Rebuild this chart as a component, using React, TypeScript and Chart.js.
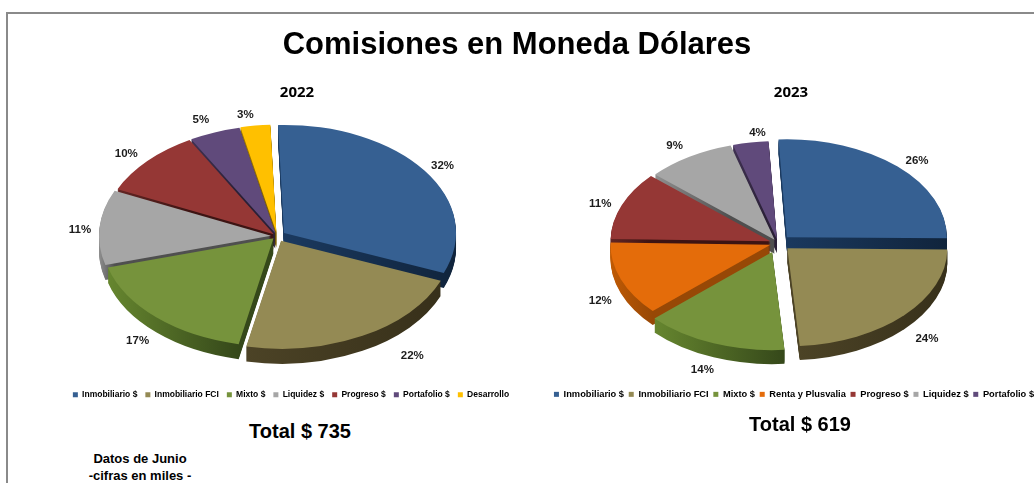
import React, { useEffect, useRef } from "react";
import { Chart, registerables } from "chart.js";

Chart.register(...registerables);

const pageTitle = "Comisiones en Moneda Dólares";
const note = ["Datos de Junio", "-cifras en miles -"];

const categories2022 = ["Inmobiliario $", "Inmobiliario FCI", "Mixto $", "Liquidez $", "Progreso $", "Portafolio $", "Desarrollo"];
const values2022 = [31.6, 22.2, 17.4, 11.2, 10, 4.8, 2.8];
const total2022 = "Total $ 735";

const categories2023 = ["Inmobiliario $", "Inmobiliario FCI", "Mixto $", "Renta y Plusvalia", "Progreso $", "Liquidez $", "Portafolio $"];
const values2023 = [26, 23.6, 14.4, 12.2, 11.2, 9, 3.6];
const total2023 = "Total $ 619";

type Tone = { top: string; light: string; dark: string };
const BLUE: Tone = { top: "#366092", light: "#1b3a60", dark: "#10243c" };
const OLIVE: Tone = { top: "#948A54", light: "#4c4326", dark: "#37301a" };
const GREEN: Tone = { top: "#76933C", light: "#66862f", dark: "#35481a" };
const GRAY: Tone = { top: "#A6A6A6", light: "#8f8f8f", dark: "#4f4f4f" };
const RED: Tone = { top: "#953735", light: "#632523", dark: "#3d1413" };
const PURPLE: Tone = { top: "#604A7B", light: "#3f3151", dark: "#2a2036" };
const YELLOW: Tone = { top: "#FFC000", light: "#a07a00", dark: "#7f6000" };
const ORANGE: Tone = { top: "#E46C0A", light: "#c05a04", dark: "#974806" };

const tones2022 = [BLUE, OLIVE, GREEN, GRAY, RED, PURPLE, YELLOW];
const tones2023 = [BLUE, OLIVE, GREEN, ORANGE, RED, GRAY, PURPLE];

type PieView = {
  cx: number; cy: number; rx: number; ry: number; depth: number;
  tones: Tone[]; nudges: number[][];
};

const LABEL_FACTOR = 1.12;

function pie3d(view: PieView) {
  return {
    id: "pie3d",
    beforeDatasetsDraw(chart: any) {
      const ctx: CanvasRenderingContext2D = chart.ctx;
      const canvasRect = chart.canvas.getBoundingClientRect();
      const cx = view.cx - canvasRect.left;
      const cy = view.cy - canvasRect.top;
      const arcs: any[] = chart.getDatasetMeta(0).data;
      const R = arcs[0].outerRadius;
      const sx = view.rx / R;
      const sy = view.ry / R;

      const drawArc = (arc: any, fill: any) => {
        const t = (arc.options.offset / 100) * R;
        const mid = (arc.startAngle + arc.endAngle) / 2;
        const opts = new Proxy(arc.options, {
          get(target: any, key: string) {
            if (key === "backgroundColor") return fill;
            if (key === "offset") return 0;
            return target[key];
          },
        });
        const clone = Object.create(arc);
        clone.options = opts;
        ctx.save();
        ctx.translate(Math.cos(mid) * t, Math.sin(mid) * t);
        arc.draw.call(clone, ctx);
        ctx.restore();
      };

      const sideFill = (arc: any, tone: Tone) => {
        let lo = Infinity;
        let hi = -Infinity;
        for (let i = 0; i <= 24; i++) {
          const a = arc.startAngle + ((arc.endAngle - arc.startAngle) * i) / 24;
          const x = arc.x + Math.cos(a) * R;
          lo = Math.min(lo, x);
          hi = Math.max(hi, x);
        }
        const g = ctx.createLinearGradient(lo, 0, hi, 0);
        g.addColorStop(0, tone.light);
        g.addColorStop(1, tone.dark);
        return g;
      };

      for (let d = view.depth; d >= 0; d--) {
        ctx.save();
        ctx.translate(cx, cy + d);
        ctx.scale(sx, sy);
        ctx.translate(-arcs[0].x, -arcs[0].y);
        arcs.forEach((arc, i) => {
          drawArc(arc, d === 0 ? view.tones[i].top : sideFill(arc, view.tones[i]));
        });
        ctx.restore();
      }

      const values: number[] = chart.data.datasets[0].data;
      ctx.save();
      ctx.font = "bold 11.5px 'Liberation Sans'";
      ctx.fillStyle = "#1c1c1c";
      ctx.textAlign = "center";
      ctx.textBaseline = "middle";
      arcs.forEach((arc, i) => {
        const mid = (arc.startAngle + arc.endAngle) / 2;
        const [nx, ny] = view.nudges[i];
        const x = cx + Math.cos(mid) * view.rx * LABEL_FACTOR + nx;
        const y = cy + Math.sin(mid) * view.ry * LABEL_FACTOR + ny;
        ctx.fillText(`${Math.round(values[i])}%`, x, y);
      });
      ctx.restore();
      return false;
    },
  };
}

type PieProps = {
  left: number; top: number; width: number; height: number;
  labels: string[]; values: number[]; tones: Tone[]; offsets: number[];
  rotation: number; legendSize: number; legendPadding: number; view: PieView;
};

function Pie(p: PieProps) {
  const ref = useRef<HTMLCanvasElement>(null);
  useEffect(() => {
    const chart = new Chart(ref.current as HTMLCanvasElement, {
      type: "pie",
      data: {
        labels: p.labels,
        datasets: [{
          data: p.values,
          backgroundColor: p.tones.map((t) => t.top),
          borderWidth: 0,
          offset: p.offsets,
        }],
      },
      options: {
        animation: false,
        responsive: false,
        rotation: p.rotation,
        plugins: {
          tooltip: { enabled: false },
          title: { display: false },
          legend: {
            position: "bottom",
            labels: {
              color: "#000",
              boxWidth: 5,
              boxHeight: 5,
              padding: p.legendPadding,
              font: { family: "'Liberation Sans'", size: p.legendSize, weight: "bold" },
            },
          },
        },
      },
      plugins: [pie3d(p.view)],
    } as any);
    return () => chart.destroy();
  }, []);
  return (
    <canvas
      ref={ref}
      width={p.width}
      height={p.height}
      style={{ position: "absolute", left: p.left, top: p.top, width: p.width, height: p.height }}
    />
  );
}

const textStyle = (left: number, top: number, width: number, size: number, font = "'Liberation Sans'"): React.CSSProperties => ({
  position: "absolute", left, top, width, textAlign: "center", fontFamily: font,
  fontWeight: 700, fontSize: size, lineHeight: `${Math.round(size * 1.2)}px`, color: "#000", whiteSpace: "nowrap",
});

export default function App() {
  return (
    <div style={{ position: "absolute", left: 0, top: 0, width: 1034, height: 483, overflow: "hidden", background: "#fff", fontFamily: "'Liberation Sans'" }}>
      <div style={{ position: "absolute", left: 6, top: 12, width: 1040, height: 480, borderTop: "2px solid #8a8a8a", borderLeft: "2px solid #8a8a8a" }} />
      <Pie
        left={41} top={60} width={500} height={349}
        labels={categories2022} values={values2022} tones={tones2022}
        offsets={[5, 5, 3, 3.5, 2.5, 2.5, 3]}
        rotation={-2} legendSize={8.5} legendPadding={8}
        view={{
          cx: 277, cy: 236, rx: 172, ry: 108, depth: 15, tones: tones2022,
          nudges: [[8, -1], [44, 13], [-8, 16], [-5, 3], [-9, 0], [-8, -3], [-8, -1]],
        }}
      />
      <Pie
        left={514} top={60} width={560} height={349}
        labels={categories2023} values={values2023} tones={tones2023}
        offsets={[8, 8, 10, 5, 5, 4, 4]}
        rotation={-3} legendSize={9.3} legendPadding={4.7}
        view={{
          cx: 778, cy: 243, rx: 160, ry: 98, depth: 14, tones: tones2023,
          nudges: [[15, -3], [18, 21], [-10, 25], [-10, 19], [-11, 1], [-8, -4], [9, -2]],
        }}
      />
      <div style={{ ...textStyle(0, 25, 1034, 31) }}>{pageTitle}</div>
      <div style={textStyle(247, 82, 100, 15, "'Open Sans'")}>2022</div>
      <div style={textStyle(741, 82, 100, 15, "'Open Sans'")}>2023</div>
      <div style={textStyle(200, 419, 200, 20)}>{total2022}</div>
      <div style={textStyle(700, 412, 200, 20)}>{total2023}</div>
      <div style={textStyle(40, 451, 200, 13)}>{note[0]}</div>
      <div style={textStyle(40, 468, 200, 13)}>{note[1]}</div>
    </div>
  );
}
